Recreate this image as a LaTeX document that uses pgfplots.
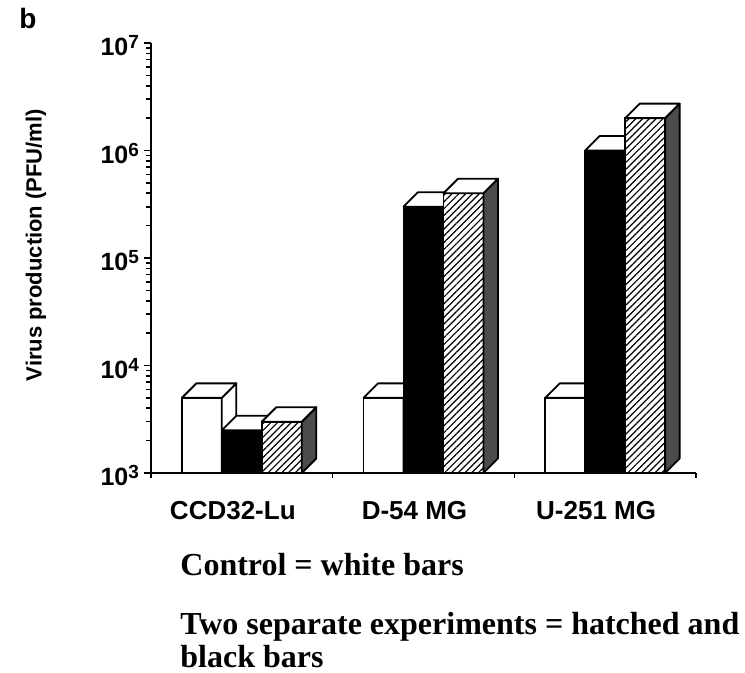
\documentclass[border=0pt]{standalone}
\usepackage{fontspec}
\setmainfont{Liberation Serif}
\setsansfont{Liberation Sans}
\usepackage{pgfplots}
\usepackage{pgfplotstable}
\pgfplotsset{compat=1.18}
\usetikzlibrary{patterns.meta}

\pgfplotstableread{
x ctrl expA expB
1 5000 2500 3000
2 5000 300000 400000
3 5000 1000000 2000000
}\datatable

\def\dd{7.25pt}
\newcommand{\faces}[3]{%
 \pgfplotsforeachungrouped \r in {0,1,2}{%
  \pgfplotstablegetelem{\r}{x}\of\datatable \let\xc\pgfplotsretval
  \pgfplotstablegetelem{\r}{#1}\of\datatable \let\yv\pgfplotsretval
  \pgfmathsetmacro\xa{\xc+(#2)-0.11}%
  \pgfmathsetmacro\xb{\xc+(#2)+0.11}%
  \edef\tmp{%
   \noexpand\draw[line width=0.9pt, line join=round, fill=#3] (axis cs:\xb,1000) -- (axis cs:\xb,\yv) -- ++(\dd,\dd) -- ([shift={(\dd,\dd)}]axis cs:\xb,1000) -- cycle;
   \noexpand\draw[line width=0.9pt, line join=round, fill=white] (axis cs:\xa,\yv) -- ++(\dd,\dd) -- ([shift={(\dd,\dd)}]axis cs:\xb,\yv) -- (axis cs:\xb,\yv) -- cycle;
  }\tmp
 }%
}
\newcommand{\tp}[1]{10\raisebox{3.5pt}{\fontsize{9.5}{9.5}\selectfont #1}}

\begin{document}
\begin{tikzpicture}
\begin{axis}[
 scale only axis, width=272.5pt, height=215pt,
 ymode=log, log origin=infty,
 xmin=0.5, xmax=3.5, ymin=1000, ymax=1e7,
 axis lines=left, axis line style={-, line width=0.9pt},
 tick align=outside,
 xtick={1,2,3}, xticklabels={CCD32-Lu, D-54 MG, U-251 MG},
 major x tick style={draw=none},
 minor xtick={0.5,1.5,2.5,3.5},
 ytick={1e3,1e4,1e5,1e6,1e7},
 yticklabels={\tp{3},\tp{4},\tp{5},\tp{6},\tp{7}},
 minor ytick={2000,3000,4000,5000,6000,7000,8000,9000,20000,30000,40000,50000,60000,70000,80000,90000,200000,300000,400000,500000,600000,700000,800000,900000,2000000,3000000,4000000,5000000,6000000,7000000,8000000,9000000},
 major tick length=3.5pt, minor tick length=2.5pt,
 every tick/.append style={line width=0.8pt, black},
 xticklabel style={font=\sffamily\bfseries\fontsize{13}{13}\selectfont, xshift=-4.5pt, yshift=-7pt},
 yticklabel style={font=\sffamily\bfseries\fontsize{12.5}{12.5}\selectfont, xshift=1pt, yshift=-1.5pt},
 ylabel={Virus production (PFU/ml)},
 ylabel style={font=\sffamily\bfseries\fontsize{11}{11}\selectfont, at={(axis description cs:-0.211,0.53)}, anchor=center},
 clip=false,
]
\addplot[ybar, bar width=0.22, bar shift=-0.22, draw=black, line width=0.9pt, fill=white] table[x=x, y=ctrl] {\datatable};
\faces{ctrl}{-0.22}{white}
\addplot[ybar, bar width=0.22, bar shift=0, draw=black, line width=0.9pt, fill=black] table[x=x, y=expA] {\datatable};
\faces{expA}{0}{black}
\addplot[ybar, bar width=0.22, bar shift=0.22, draw=black, line width=0.9pt, preaction={fill=white}, pattern={Lines[angle=45, distance=2.4pt, line width=0.6pt]}] table[x=x, y=expB] {\datatable};
\faces{expB}{0.22}{black!70}
\end{axis}
\node[font=\sffamily\bfseries\fontsize{14}{14}\selectfont] at (-61.5pt,227pt) {b};
\node[anchor=base west, inner sep=0pt, font=\bfseries\fontsize{16}{16}\selectfont] at (14.5pt,-51.5pt) {Control = white bars};
\node[anchor=base west, inner sep=0pt, font=\bfseries\fontsize{16}{16}\selectfont] at (14.5pt,-81pt) {Two separate experiments = hatched and};
\node[anchor=base west, inner sep=0pt, font=\bfseries\fontsize{16}{16}\selectfont] at (14.5pt,-97.5pt) {black bars};
\pgfresetboundingbox
\path[use as bounding box] (-75.5pt,-100pt) rectangle (297pt,236.5pt);
\end{tikzpicture}
\end{document}
